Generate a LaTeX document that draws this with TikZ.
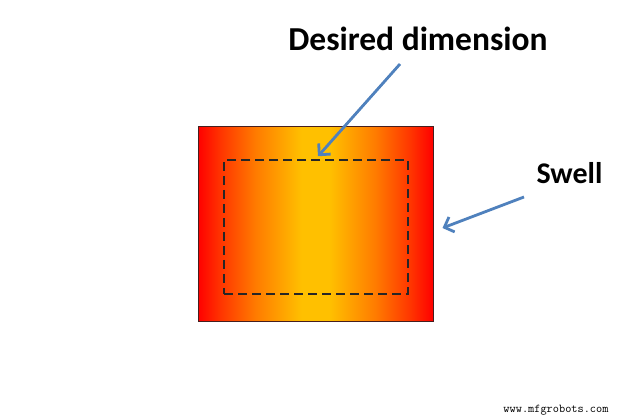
\documentclass[tikz,border=0pt]{standalone}
\usepackage{fontspec}
\setmainfont{Carlito}
\usetikzlibrary{arrows.meta,calc}
\definecolor{gold}{RGB}{255,192,0}
\definecolor{arrowblue}{RGB}{79,129,189}
\definecolor{edgegray}{RGB}{70,30,30}
\pgfdeclarehorizontalshading{heatbar}{100bp}{%
  color(0bp)=(red); color(25bp)=(red);
  color(30bp)=(rgb,255:red,255;green,55;blue,0);
  color(37.5bp)=(rgb,255:red,255;green,125;blue,0);
  color(47bp)=(gold); color(53bp)=(gold);
  color(62.5bp)=(rgb,255:red,255;green,125;blue,0);
  color(70bp)=(rgb,255:red,255;green,55;blue,0);
  color(75bp)=(red); color(100bp)=(red)}
\tikzset{
  biglabel/.style={font=\bfseries\fontsize{33.5}{33.5}\selectfont, inner sep=0pt},
  smalllabel/.style={font=\bfseries\fontsize{30}{30}\selectfont, inner sep=0pt},
  callout/.style={draw=arrowblue, line width=2.8pt, -{Straight Barb[length=8pt,width=16pt,line width=2.8pt]}},
  bar/.style={draw=edgegray, line width=1pt, shading=heatbar, inner sep=0pt},
  target/.style={draw=black!85, line width=1.5pt, dash pattern=on 9pt off 5pt, inner sep=0pt},
}
\begin{document}
\begin{tikzpicture}[x=1pt,y=1pt]
\useasboundingbox (0,0) rectangle (630,420);
\fill[white] (0,0) rectangle (630,420);
\node[bar, minimum width=235pt, minimum height=195pt] (outer) at (315.5,195.5) {};
\node[target, minimum width=184pt, minimum height=134pt] (inner) at (316,193) {};
\node[biglabel] (desired) at (418,381) {Desired dimension};
\node[smalllabel] (swell) at (569.5,247) {Swell};
\node[font=\ttfamily\fontsize{12}{12}\selectfont, inner sep=0pt] (wm) at (556,10) {www.mfgrobots.com};
\coordinate (a1) at (400,356);
\coordinate (t1) at ($(inner.north)+(2,3)$);
\coordinate (a2) at (524,223);
\coordinate (t2) at ($(outer.east)+(9,-3.5)$);
\draw[callout] (a1) -- (t1);
\draw[callout] (a2) -- (t2);
\end{tikzpicture}
\end{document}
